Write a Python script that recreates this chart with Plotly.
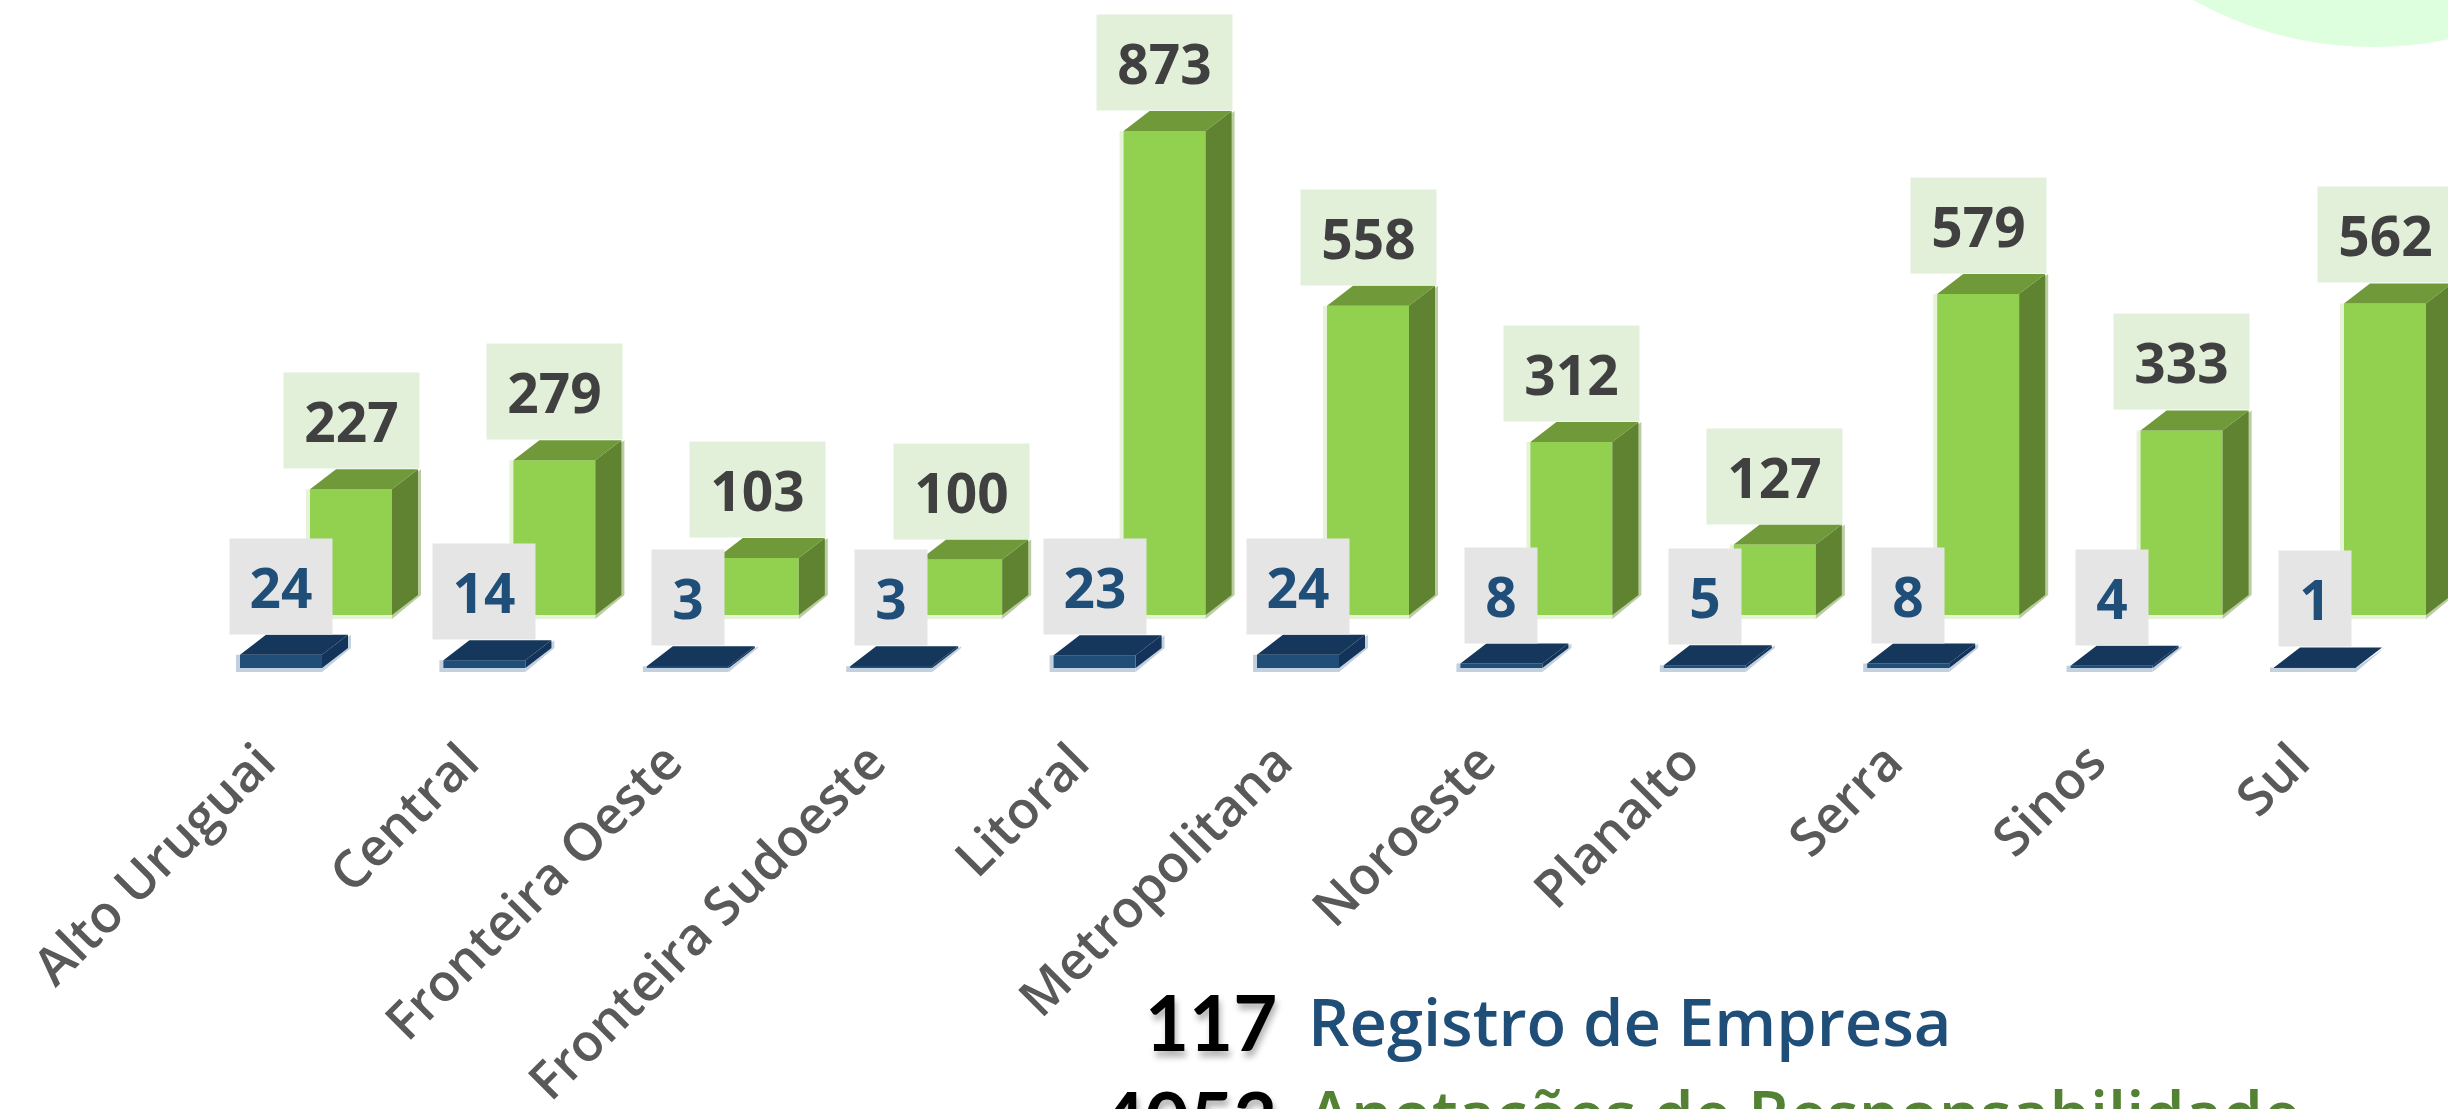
import plotly.graph_objects as go

categories = ["Alto Uruguai", "Central", "Fronteira Oeste", "Fronteira Sudoeste", "Litoral",
              "Metropolitana", "Noroeste", "Planalto", "Serra", "Sinos", "Sul"]
registro_empresa = [24, 14, 3, 3, 23, 24, 8, 5, 8, 4, 1]
anotacoes = [227, 279, 103, 100, 873, 558, 312, 127, 579, 333, 562]
total_registro = "117"
total_anotacoes = "4053"
name_registro = "Registro de Empresa"
name_anotacoes = "Anotações de Responsabilidade"

W, H = 2448, 1109
PX_X = 203.4                 # pixels per category
X0 = 260.0                   # pixel of first tick
PX_Y = 0.5544                # pixels per value unit
BASE_G, BASE_B = 615.0, 668.0
BAR_W = 82 / PX_X
DX, DY = 26 / PX_X, 20 / PX_Y
OFF_G = (310 - X0) / PX_X
OFF_B = (240 - X0) / PX_X

FONT = "Open Sans"
x_range = [(0 - X0) / PX_X, (W - X0) / PX_X]
def y_range(base):
    return [(base - H) / PX_Y, base / PX_Y]

def box_traces(values, off, axis, front, top, side, halo, edge):
    xs = list(range(len(values)))
    traces = [
        go.Bar(x=xs, y=[v + 4 / PX_Y for v in values], base=-4 / PX_Y, width=BAR_W + 4 / PX_X,
               offset=off - 4 / PX_X, marker=dict(color=halo, line_width=0), yaxis=axis,
               hoverinfo="skip", showlegend=False),
        go.Bar(x=xs, y=values, base=0, width=BAR_W, offset=off,
               marker=dict(color=front, line_width=0), yaxis=axis, showlegend=False),
    ]
    tx, ty, sx, sy, ex, ey = [], [], [], [], [], []
    E = 3 / PX_X
    for i, v in zip(xs, values):
        l, r = i + off, i + off + BAR_W
        tx += [l, l + DX, r + DX, r, l, None]
        ty += [v, v + DY, v + DY, v, v, None]
        sx += [r, r + DX, r + DX, r, r, None]
        sy += [0, DY, v + DY, v, 0, None]
        ex += [r, r + DX + E, r + DX + E, r, r, None]
        ey += [-4 / PX_Y, DY, v + DY, v, -4 / PX_Y, None]
    for px_, py_, col in ((ex, ey, edge), (sx, sy, side), (tx, ty, top)):
        traces.append(go.Scatter(x=px_, y=py_, mode="lines", fill="toself", fillcolor=col,
                                 line=dict(width=0), yaxis=axis, hoverinfo="skip", showlegend=False))
    return traces

fig = go.Figure()
for t in box_traces(anotacoes, OFF_G, "y", "#92D050", "#70993A", "#5F8330", "#E6F3D8", "#B9CDA0"):
    fig.add_trace(t)
for t in box_traces(registro_empresa, OFF_B, "y2", "#1F4E79", "#16375C", "#14335A", "#C3D0DE", "#C3D0DE"):
    fig.add_trace(t)

def box_width(v):
    return {1: 72, 2: 102, 3: 135}[len(str(v))]

anns = []
for i, v in enumerate(anotacoes):
    anns.append(dict(x=i + OFF_G + BAR_W / 2, y=v + DY, xref="x", yref="y", text=f"{v}",
                     xanchor="center", yanchor="bottom", showarrow=False, width=135 - 2, height=95 - 2,
                     bgcolor="#E2EFD9", borderpad=1,
                     font=dict(family=FONT, size=55, weight=700, color="#404040")))
for i, v in enumerate(registro_empresa):
    anns.append(dict(x=i + OFF_B + BAR_W / 2, y=v + DY, xref="x", yref="y2", text=f"{v}",
                     xanchor="center", yanchor="bottom", showarrow=False, width=box_width(v) - 2, height=95 - 2,
                     bgcolor="#E5E5E5", borderpad=1,
                     font=dict(family=FONT, size=55, weight=700, color="#1F4E79")))

def legend_line(total, name, color, y_total, y_name):
    anns.append(dict(x=1279 / W, y=1 - y_total / H, xref="paper", yref="paper", xanchor="right", yanchor="middle",
                     text=total, showarrow=False,
                     font=dict(family="Lato", size=76, weight=700, color="#000000",
                               shadow="2px 6px 6px rgba(0,0,0,0.3)")))
    anns.append(dict(x=1306 / W, y=1 - y_name / H, xref="paper", yref="paper", xanchor="left", yanchor="middle",
                     text=name, showarrow=False,
                     font=dict(family=FONT, size=65, weight=600, color=color)))

legend_line(total_registro, name_registro, "#1F4E79", 1021, 1021)
legend_line(total_anotacoes, name_anotacoes, "#548235", 1118, 1113)

fig.update_layout(
    width=W, height=H, margin=dict(l=0, r=0, t=0, b=0), autosize=False,
    paper_bgcolor="white", plot_bgcolor="rgba(0,0,0,0)", barmode="overlay", showlegend=False,
    xaxis=dict(range=x_range, tickmode="array", tickvals=list(range(len(categories))), ticktext=categories,
               tickangle=-45, anchor="free", position=1 - 720 / H, showline=False, showgrid=False, automargin=False,
               zeroline=False, ticks="", tickfont=dict(family=FONT, size=52, weight=600, color="#595959")),
    yaxis=dict(range=y_range(BASE_G), visible=False, fixedrange=True, automargin=False),
    yaxis2=dict(range=y_range(BASE_B), visible=False, overlaying="y", fixedrange=True, automargin=False),
    annotations=anns,
    shapes=[dict(type="circle", xref="paper", yref="paper", x0=(2373 - 368) / W, x1=(2373 + 368) / W,
                 y0=1 - 47 / H, y1=1 + 689 / H, fillcolor="#DDFFDD", line_width=0, layer="below")],
)
fig.write_html("out.html", config=dict(displayModeBar=False),
               post_script="document.body.style.margin='0';document.documentElement.style.overflow='hidden';")
